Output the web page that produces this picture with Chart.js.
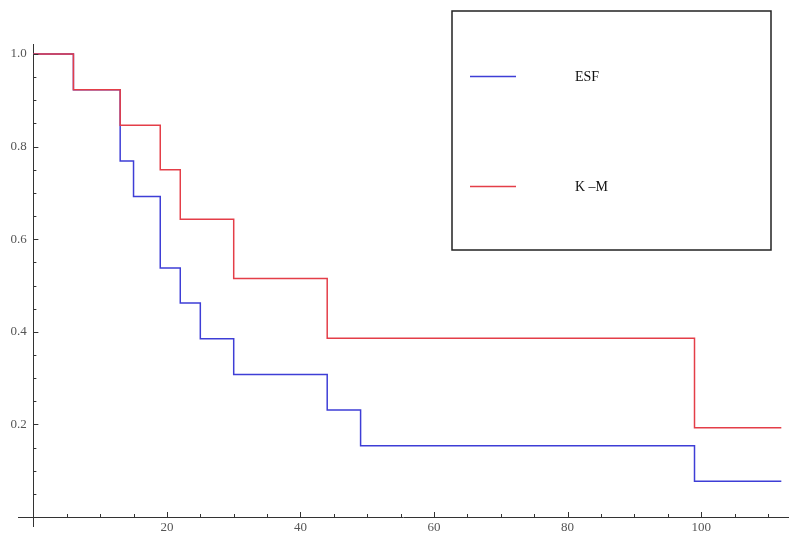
<!DOCTYPE html>
<html>
<head>
<meta charset="utf-8">
<script src="https://cdn.jsdelivr.net/npm/chart.js@4.4.0/dist/chart.umd.min.js"></script>
<style>
    html, body { margin: 0; padding: 0; background: #fff; }
    #wrap { width: 790px; height: 533px; }
</style>
</head>
<body>
<div id="wrap"><canvas id="chart"></canvas></div>
<script>
// step times and survival values
const esfTimes = [0, 6, 13, 15, 19, 22, 25, 30, 44, 49, 99, 112];
const esfValues = [1.0, 0.923, 0.769, 0.692, 0.538, 0.462, 0.385, 0.308, 0.231, 0.154, 0.077, 0.077];

const kmTimes = [0, 6, 13, 19, 22, 30, 44, 99, 112];
const kmValues = [1.0, 0.923, 0.846, 0.75, 0.643, 0.515, 0.386, 0.193, 0.193];

const seriesLabels = ["ESF", "K \u2013M"];
const xTickLabels = [20, 40, 60, 80, 100];
const yTickLabels = [0.2, 0.4, 0.6, 0.8, 1.0];

const toPoints = (xs, ys) => xs.map((x, i) => ({ x: x, y: ys[i] }));

// ticks point into the plot (Mathematica style), legend is a framed box
const axisMarks = {
    id: 'axisMarks',
    afterDraw(chart) {
        const { ctx, scales: { x, y } } = chart;
        const x0 = x.getPixelForValue(0);
        const y0 = y.getPixelForValue(0);

        ctx.save();
        ctx.strokeStyle = '#333';
        ctx.lineWidth = 1;
        ctx.beginPath();
        x.ticks.forEach(t => {
            if (t.value <= 0) return;
            const px = Math.round(x.getPixelForValue(t.value)) + 0.5;
            const len = xTickLabels.includes(t.value) ? 5 : 3;
            ctx.moveTo(px, y0);
            ctx.lineTo(px, y0 - len);
        });
        y.ticks.forEach(t => {
            if (t.value <= 0) return;
            const py = Math.round(y.getPixelForValue(t.value)) + 0.5;
            const major = yTickLabels.some(v => Math.abs(v - t.value) < 1e-6);
            const len = major ? 5 : 3;
            ctx.moveTo(x0, py);
            ctx.lineTo(x0 + len, py);
        });
        ctx.stroke();

        // legend box
        ctx.lineWidth = 1.5;
        ctx.strokeStyle = '#222';
        ctx.strokeRect(452, 11, 319, 239);
        const rows = [76.5, 186.5];
        chart.data.datasets.forEach((ds, i) => {
            ctx.strokeStyle = ds.borderColor;
            ctx.lineWidth = 1.5;
            ctx.beginPath();
            ctx.moveTo(470, rows[i]);
            ctx.lineTo(516, rows[i]);
            ctx.stroke();
            ctx.fillStyle = '#111';
            ctx.font = '14px "Liberation Serif"';
            ctx.textBaseline = 'middle';
            ctx.textAlign = 'left';
            ctx.fillText(ds.label, 575, rows[i] + 1);
        });
        ctx.restore();
    }
};

const ctx = document.getElementById('chart').getContext('2d');
new Chart(ctx, {
    type: 'line',
    data: {
        datasets: [{
            label: seriesLabels[0],
            data: toPoints(esfTimes, esfValues),
            borderColor: 'rgb(62, 62, 214)',
            borderWidth: 1.5,
            stepped: true,
            pointRadius: 0,
            fill: false,
            order: 1
        }, {
            label: seriesLabels[1],
            data: toPoints(kmTimes, kmValues),
            borderColor: 'rgb(228, 62, 72)',
            borderWidth: 1.5,
            stepped: true,
            pointRadius: 0,
            fill: false,
            order: 0
        }]
    },
    options: {
        responsive: true,
        maintainAspectRatio: false,
        animation: false,
        layout: {
            padding: { top: 44, bottom: 6, left: 18, right: 2 }
        },
        plugins: {
            legend: { display: false },
            tooltip: { enabled: false }
        },
        scales: {
            x: {
                type: 'linear',
                position: { y: 0 },
                min: -2.3,
                max: 113,
                grid: { drawOnChartArea: false, drawTicks: false },
                border: { display: true, color: '#333', width: 1 },
                ticks: {
                    stepSize: 5,
                    autoSkip: false,
                    includeBounds: false,
                    maxRotation: 0,
                    padding: 3,
                    color: '#555',
                    font: { family: '"Liberation Serif"', size: 13 },
                    callback: v => xTickLabels.includes(v) ? String(v) : ''
                }
            },
            y: {
                type: 'linear',
                position: { x: 0 },
                min: -0.0205,
                max: 1.0216,
                grid: { drawOnChartArea: false, drawTicks: false },
                border: { display: true, color: '#333', width: 1 },
                ticks: {
                    stepSize: 0.05,
                    autoSkip: false,
                    includeBounds: false,
                    padding: 0,
                    color: '#555',
                    font: { family: '"Liberation Serif"', size: 13, lineHeight: 1 },
                    callback: v => {
                        const hit = yTickLabels.find(t => Math.abs(t - v) < 1e-6);
                        return hit !== undefined ? hit.toFixed(1) + '  ' : '';
                    }
                }
            }
        }
    },
    plugins: [axisMarks]
});
</script>
</body>
</html>
